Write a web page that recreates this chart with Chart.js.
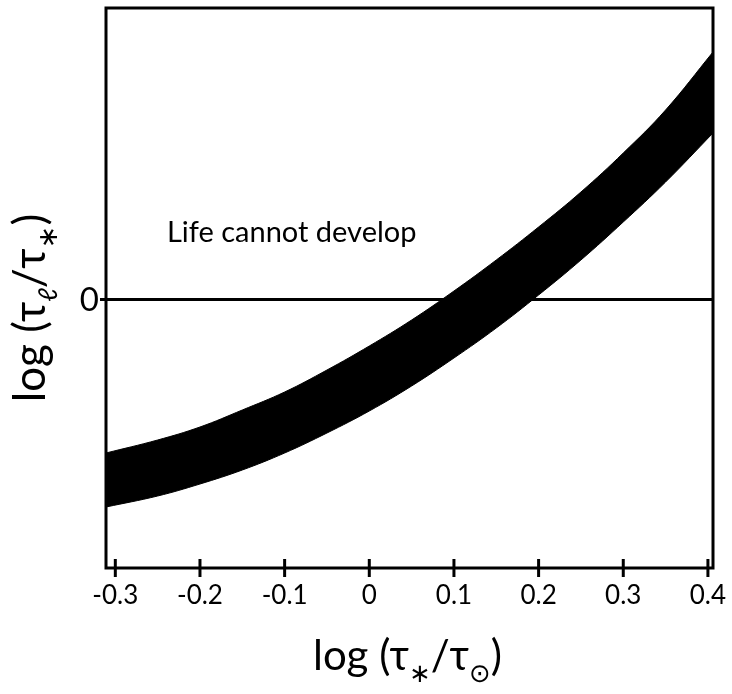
<!DOCTYPE html>
<html>
<head>
<meta charset="utf-8">
<script src="https://cdn.jsdelivr.net/npm/chart.js@4"></script>
<style>
html,body{margin:0;padding:0;background:#fff;}
#wrap{width:732px;height:694px;}
</style>
</head>
<body>
<div id="wrap"><canvas id="c" width="732" height="694"></canvas></div>
<script>
// data (x = log(t*/tsun), y in arbitrary units, 0 = the reference line)
const xPoints=[-0.311,-0.25,-0.2,-0.15,-0.1,-0.05,0,0.05,0.1,0.15,0.2,0.25,0.3,0.35,0.406];
const upperEdge=[-1.53,-1.40,-1.27,-1.10,-0.92,-0.70,-0.46,-0.20,0.09,0.40,0.73,1.08,1.47,1.90,2.48];
const lowerEdge=[-2.07,-1.96,-1.84,-1.70,-1.53,-1.33,-1.11,-0.86,-0.58,-0.28,0.05,0.40,0.78,1.18,1.67];
const xTicks=[-0.3,-0.2,-0.1,0,0.1,0.2,0.3,0.4];
const yTicks=[0];
const X_MIN=-0.311, X_MAX=0.406, Y_MIN=-2.68, Y_MAX=2.92;
const noteText='Life cannot develop', noteAt={x:-0.239,y:0.58};

const FONT='Lato, "Open Sans", "DejaVu Sans", sans-serif';
const toXY=ys=>ys.map((y,i)=>({x:xPoints[i],y}));

// "log (τ_a/τ_b)" with subscripts, drawn from left baseline
function richTitle(ctx,size,subA,subB,subAFont){
  const big=size+'px '+FONT, small=Math.round(size*0.62)+'px '+FONT;
  const parts=[['log (τ',big,0],[subA,subAFont||small,size*0.28],['/τ',big,0],[subB,small,size*0.28],[')',big,0]];
  let w=0;parts.forEach(p=>{ctx.font=p[1];w+=ctx.measureText(p[0]).width;});
  return {w,draw(x,y){let cx=x;parts.forEach(p=>{ctx.font=p[1];ctx.fillText(p[0],cx,y+p[2]);cx+=ctx.measureText(p[0]).width;});}};
}

const framePlugin={
  id:'frame',
  afterDraw(chart){
    const {ctx,chartArea:a,scales:{x,y}}=chart;
    ctx.save();
    ctx.strokeStyle='#000';ctx.lineWidth=3;
    ctx.strokeRect(a.left,a.top,a.right-a.left,a.bottom-a.top);
    xTicks.forEach(v=>{const px=x.getPixelForValue(v);ctx.beginPath();ctx.moveTo(px,a.bottom-9);ctx.lineTo(px,a.bottom+9);ctx.stroke();});
    ctx.fillStyle='#000';ctx.textAlign='left';ctx.textBaseline='alphabetic';
    ctx.font='29px '+FONT;
    ctx.fillText(noteText,x.getPixelForValue(noteAt.x),y.getPixelForValue(noteAt.y));
    const tx=richTitle(ctx,42,'∗','⊙');
    tx.draw(407.5-tx.w/2,670);
    const ty=richTitle(ctx,44,'ℓ','∗','italic 26px '+FONT);
    ctx.translate(45,308);ctx.rotate(-Math.PI/2);
    ty.draw(-ty.w/2,0);
    ctx.restore();
  }
};

new Chart(document.getElementById('c'),{
  type:'line',
  data:{datasets:[
    {data:toXY(upperEdge),borderColor:'#000',backgroundColor:'#000',borderWidth:1,pointRadius:0,fill:'+1',tension:0.4},
    {data:toXY(lowerEdge),borderColor:'#000',backgroundColor:'#000',borderWidth:1,pointRadius:0,fill:false,tension:0.4}
  ]},
  options:{
    responsive:false,animation:false,
    layout:{padding:{left:0,right:19,top:8,bottom:0}},
    plugins:{legend:{display:false},tooltip:{enabled:false}},
    scales:{
      x:{type:'linear',min:X_MIN,max:X_MAX,
        afterBuildTicks:s=>{s.ticks=xTicks.map(v=>({value:v}));},
        afterFit:s=>{s.height=126;s.paddingLeft=0;s.paddingRight=0;},
        grid:{display:false,drawTicks:false},border:{display:false},
        ticks:{color:'#000',padding:12,font:{family:FONT,size:26},callback:v=>String(Math.round(v*10)/10)}},
      y:{type:'linear',min:Y_MIN,max:Y_MAX,
        afterBuildTicks:s=>{s.ticks=yTicks.map(v=>({value:v}));},
        afterFit:s=>{s.width=106;s.paddingTop=0;s.paddingBottom=0;},
        grid:{color:'#000',lineWidth:3,tickLength:6,drawTicks:true},border:{display:false},
        ticks:{color:'#000',padding:1,font:{family:FONT,size:33},callback:v=>String(v)}}
    }
  },
  plugins:[framePlugin]
});
</script>
</body>
</html>
